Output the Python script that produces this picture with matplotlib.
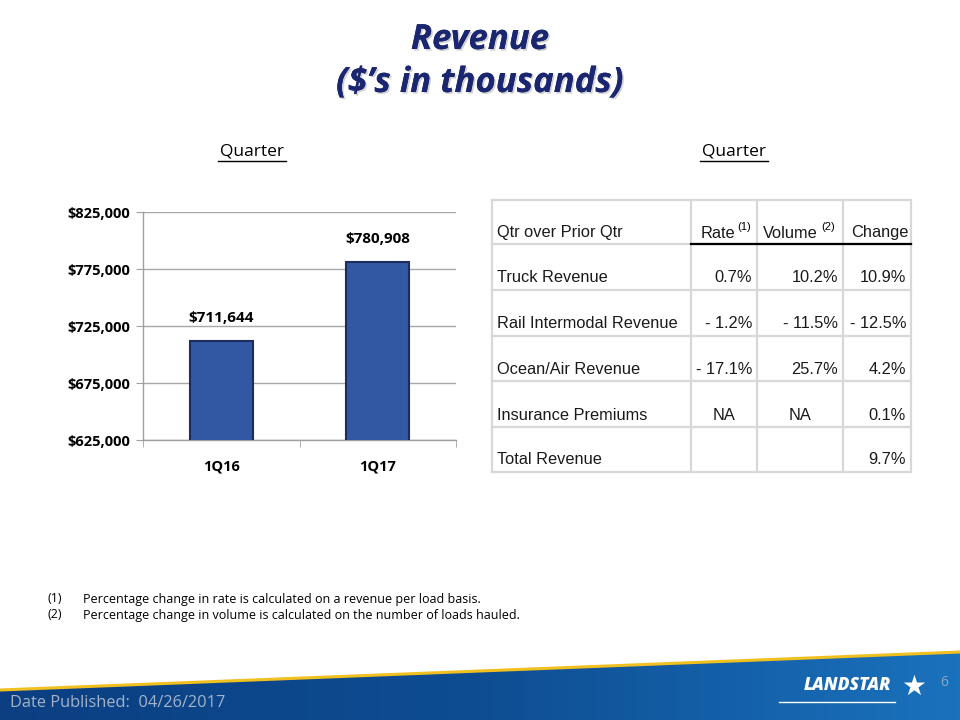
import matplotlib
matplotlib.use("Agg")
import matplotlib.pyplot as plt
import matplotlib.patheffects as pe
from matplotlib.patches import Polygon
from matplotlib.colors import LinearSegmentedColormap
import numpy as np

# Bar chart data
quarters = ["1Q16", "1Q17"]
revenue = [711644, 780908]
y_ticks = [625000, 675000, 725000, 775000, 825000]

# Table data
col_headers = ["Qtr over Prior Qtr", "Rate", "Volume", "Change"]
header_notes = ["", "(1)", "(2)", ""]
row_names = ["Truck Revenue", "Rail Intermodal Revenue", "Ocean/Air Revenue",
             "Insurance Premiums", "Total Revenue"]
rate = ["0.7%", "- 1.2%", "- 17.1%", "NA", ""]
volume = ["10.2%", "- 11.5%", "25.7%", "NA", ""]
change = ["10.9%", "- 12.5%", "4.2%", "0.1%", "9.7%"]

footnotes = ["Percentage change in rate is calculated on a revenue per load basis.",
             "Percentage change in volume is calculated on the number of loads hauled."]

NAVY = "#1a2670"

fig = plt.figure(figsize=(9.6, 7.2), dpi=100)

# overlay axes in pixel coordinates for the slide decorations
deco = fig.add_axes([0, 0, 1, 1])
deco.set_xlim(0, 960)
deco.set_ylim(720, 0)
deco.axis("off")

# title
shadow = [pe.withSimplePatchShadow(offset=(1.2, -1.2), shadow_rgbFace="#999999", alpha=0.45), pe.Normal()]
deco.text(480, 40, "Revenue", ha="center", va="center", fontsize=25, fontweight="bold",
          style="italic", color=NAVY, family="Open Sans", path_effects=shadow)
deco.text(480, 83, "(\\$\u2019s in thousands)", ha="center", va="center", fontsize=25,
          fontweight="bold", style="italic", color=NAVY, family="Open Sans", path_effects=shadow)

# section headings with underline
for cx in [252, 734]:
    deco.text(cx, 151, "Quarter", ha="center", va="center", fontsize=12.5, family="Open Sans", color="black")
    deco.plot([cx - 34, cx + 34], [161, 161], color="black", lw=1)

# table
col_edges = [492, 691, 757, 843, 911]
row_edges = [200, 244, 290, 336, 381, 427, 472]
grid_c = "#d8d8d8"
for x in col_edges:
    deco.plot([x, x], [row_edges[0], row_edges[-1]], color=grid_c, lw=1.6, zorder=1)
for y in row_edges:
    deco.plot([col_edges[0], col_edges[-1]], [y, y], color=grid_c, lw=1.6, zorder=1)
deco.plot([col_edges[1], col_edges[-1]], [244, 244], color="black", lw=1.6, zorder=2)

tfont = dict(family="Liberation Sans", fontsize=11.8, color="#1a1a1a", va="center")
hy = row_edges[1] - 11
deco.text(col_edges[0] + 5, hy, col_headers[0], ha="left", **tfont)
deco.text(735, hy, col_headers[1], ha="right", **tfont)
deco.text(818, hy, col_headers[2], ha="right", **tfont)
deco.text(col_edges[4] - 3, hy, col_headers[3], ha="right", **tfont)
deco.text(737, hy - 6, header_notes[1], ha="left", va="center", fontsize=8, family="Liberation Sans")
deco.text(821, hy - 6, header_notes[2], ha="left", va="center", fontsize=8, family="Liberation Sans")

for i, name in enumerate(row_names):
    y = row_edges[i + 2] - 12
    deco.text(col_edges[0] + 5, y, name, ha="left", **tfont)
    for j, vals in enumerate([rate, volume, change]):
        v = vals[i]
        if v == "NA":
            deco.text((col_edges[j + 1] + col_edges[j + 2]) / 2, y, v, ha="center", **tfont)
        elif v:
            deco.text(col_edges[j + 2] - 5, y, v, ha="right", **tfont)

# footnotes
for k, note in enumerate(footnotes):
    y = 599 + k * 16
    deco.text(48, y, "(%d)" % (k + 1), ha="left", va="center", fontsize=9, family="Open Sans")
    deco.text(83, y, note, ha="left", va="center", fontsize=9, family="Open Sans")

# footer band with gradient
band = Polygon([(0, 690), (960, 652), (960, 720), (0, 720)], closed=True, transform=deco.transData)
grad = np.linspace(0, 1, 256)[None, :]
cmap = LinearSegmentedColormap.from_list("band", ["#0b3f82", "#0e4d92", "#1a72bd"])
im = deco.imshow(grad, cmap=cmap, extent=[0, 960, 720, 650], aspect="auto", zorder=3)
im.set_clip_path(band)
deco.set_xlim(0, 960)
deco.set_ylim(720, 0)
deco.plot([0, 960], [690, 652], color="#f0c020", lw=2.2, zorder=4)

deco.text(10, 703, "Date Published:  04/26/2017", ha="left", va="center", fontsize=11.8,
          family="Open Sans", color="#a3b3c9", zorder=5)
deco.text(944, 683, "6", ha="center", va="center", fontsize=10, family="Open Sans",
          color="#8fa7c4", zorder=5)
deco.text(847, 685, "LANDSTAR", ha="center", va="center", fontsize=12.5, fontweight="heavy",
          style="italic", family="Open Sans", color="white", zorder=5)
deco.plot([779, 895], [702, 702], color="white", lw=1, zorder=5)
deco.text(914, 687, "\u2605", ha="center", va="center", fontsize=20, family="DejaVu Sans",
          color="white", zorder=5)

# bar chart
ax = fig.add_axes([143 / 960, 1 - 440 / 720, 313 / 960, 228 / 720])
x = np.arange(len(quarters))
ax.bar(x, revenue, width=0.4, color="#3358a3", edgecolor="#1b2d5c", linewidth=1.5, zorder=3)
ax.set_ylim(y_ticks[0], y_ticks[-1])
ax.set_xlim(-0.5, len(quarters) - 0.5)
ax.set_yticks(y_ticks)
ax.set_yticklabels(["\\$%s" % format(t, ",") for t in y_ticks], fontsize=10.5, fontweight="bold",
                   family="Open Sans")
ax.set_xticks(x)
ax.set_xticklabels(quarters, fontsize=10.5, fontweight="bold", family="Open Sans")
ax.set_xticks([-0.5, 0.5, 1.5], minor=True)
ax.tick_params(axis="x", which="major", length=0, pad=14)
ax.tick_params(axis="x", which="minor", length=5, color="#a0a0a0", direction="out")
ax.tick_params(axis="y", length=5, color="#a0a0a0", direction="out", pad=4)
ax.grid(axis="y", color="#a8a8a8", lw=1, zorder=0)
for s in ["top", "right"]:
    ax.spines[s].set_visible(False)
for s in ["left", "bottom"]:
    ax.spines[s].set_color("#a0a0a0")
    ax.spines[s].set_linewidth(1)
ax.set_facecolor("none")
for xi, v in zip(x, revenue):
    ax.annotate("\\$%s" % format(v, ","), (xi, v), xytext=(0, 17), textcoords="offset points",
                ha="center", va="center", fontsize=11, fontweight="bold", family="Open Sans")

fig.savefig("out.png", dpi=100)
